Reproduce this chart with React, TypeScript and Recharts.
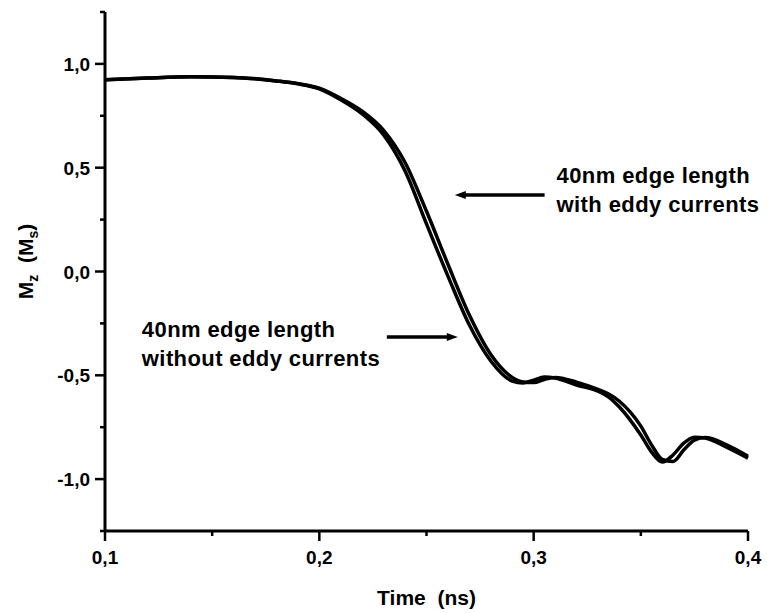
import React from "react";
import { LineChart, Line, XAxis, YAxis, ReferenceLine, ReferenceDot } from "recharts";

// time in ns
const time = [
  0.1, 0.12, 0.14, 0.16, 0.18, 0.19, 0.2, 0.21, 0.22, 0.23, 0.24, 0.25, 0.26, 0.27, 0.28, 0.29,
  0.295, 0.3, 0.305, 0.31, 0.32, 0.33, 0.335, 0.34, 0.35, 0.355, 0.36, 0.365, 0.37, 0.375, 0.38,
  0.39, 0.4,
];

// Mz (Ms), 40nm edge length without eddy currents
const withoutEddy = [
  0.923, 0.932, 0.938, 0.935, 0.918, 0.904, 0.88, 0.827, 0.759, 0.658, 0.484, 0.229, -0.022,
  -0.258, -0.431, -0.528, -0.537, -0.523, -0.508, -0.513, -0.547, -0.576, -0.605, -0.653, -0.788,
  -0.87, -0.918, -0.884, -0.827, -0.798, -0.802, -0.846, -0.899,
];

// Mz (Ms), 40nm edge length with eddy currents
const withEddy = [
  0.923, 0.932, 0.938, 0.935, 0.918, 0.905, 0.883, 0.834, 0.772, 0.68, 0.525, 0.29, 0.035, -0.21,
  -0.4, -0.51, -0.532, -0.535, -0.52, -0.51, -0.533, -0.568, -0.59, -0.625, -0.745, -0.835, -0.905,
  -0.915, -0.86, -0.812, -0.8, -0.835, -0.89,
];

const xTicks = [0.1, 0.15, 0.2, 0.25, 0.3, 0.35, 0.4];
const yTicks = [-1.25, -1, -0.75, -0.5, -0.25, 0, 0.25, 0.5, 0.75, 1, 1.25];

const noteWith = ["40nm edge length", "with eddy currents"];
const noteWithout = ["40nm edge length", "without eddy currents"];

const data = time.map((t, i) => ({ t, without: withoutEddy[i], with: withEddy[i] }));

const FONT = "'Liberation Sans', Arial, sans-serif";

const isMultiple = (v: number, step: number) =>
  Math.abs(v / step - Math.round(v / step)) < 1e-6;

const fmt = (v: number) => v.toFixed(1).replace(".", ",");

const XTick = (props: any) => {
  const { x, y, payload } = props;
  const major = isMultiple(payload.value, 0.1);
  return (
    <g>
      <line x1={x} x2={x} y1={y} y2={y + (major ? 10 : 5)} stroke="#000" strokeWidth={2.5} />
      {major && (
        <text x={x} y={y + 33} textAnchor="middle" fontFamily={FONT} fontWeight="bold" fontSize={19} fill="#000">
          {fmt(payload.value)}
        </text>
      )}
    </g>
  );
};

const YTick = (props: any) => {
  const { x, y, payload } = props;
  const major = isMultiple(payload.value, 0.5);
  return (
    <g>
      <line x1={x} x2={x - (major ? 10 : 5)} y1={y} y2={y} stroke="#000" strokeWidth={2.5} />
      {major && (
        <text x={x - 15} y={y + 7} textAnchor="end" fontFamily={FONT} fontWeight="bold" fontSize={19} fill="#000">
          {fmt(payload.value)}
        </text>
      )}
    </g>
  );
};

const Arrow = (props: any) => {
  const { x1, y1, x2, y2 } = props;
  const dir = x2 > x1 ? 1 : -1;
  return (
    <g>
      <line x1={x1} y1={y1} x2={x2 - dir * 6} y2={y2} stroke="#000" strokeWidth={3.5} />
      <polygon
        points={`${x2},${y2} ${x2 - dir * 11},${y2 - 4} ${x2 - dir * 11},${y2 + 4}`}
        fill="#000"
      />
    </g>
  );
};

const Note = (lines: string[]) => (props: any) => {
  const { cx, cy } = props;
  return (
    <text x={cx} y={cy} fontFamily={FONT} fontWeight="bold" fontSize={22} letterSpacing={0.4} fill="#000">
      {lines.map((l, i) => (
        <tspan key={i} x={cx} dy={i === 0 ? 0 : 29}>
          {l}
        </tspan>
      ))}
    </text>
  );
};

const YLabel = (props: any) => {
  const { viewBox } = props;
  const cx = 33;
  const cy = viewBox.y + viewBox.height / 2 - 10;
  return (
    <text
      x={cx}
      y={cy}
      transform={`rotate(-90, ${cx}, ${cy})`}
      textAnchor="middle"
      fontFamily={FONT}
      fontWeight="bold"
      fontSize={21}
      fill="#000"
      style={{ whiteSpace: "pre" }}
    >
      <tspan>M</tspan>
      <tspan dy={5} fontSize={14}>z</tspan>
      <tspan dy={-5}>{"  (M"}</tspan>
      <tspan dy={5} fontSize={14}>s</tspan>
      <tspan dy={-5}>)</tspan>
    </text>
  );
};

const XLabel = (props: any) => {
  const { viewBox } = props;
  return (
    <text
      x={viewBox.x + viewBox.width / 2}
      y={605}
      textAnchor="middle"
      fontFamily={FONT}
      fontWeight="bold"
      fontSize={21}
      fill="#000"
      style={{ whiteSpace: "pre" }}
    >
      {"Time  (ns)"}
    </text>
  );
};

export default function App() {
  return (
    <div style={{ position: "absolute", left: 0, top: 0, background: "#fff" }}>
      <LineChart width={767} height={613} data={data} margin={{ top: 12, right: 19, bottom: 0, left: 0 }}>
        <XAxis
          dataKey="t"
          type="number"
          domain={[0.1, 0.4]}
          ticks={xTicks}
          interval={0}
          tickSize={0}
          tickMargin={0}
          tickLine={false}
          tick={<XTick />}
          axisLine={{ stroke: "#000", strokeWidth: 3 }}
          height={82}
          label={{ content: <XLabel /> }}
        />
        <YAxis
          type="number"
          domain={[-1.25, 1.25]}
          ticks={yTicks}
          interval={0}
          tickSize={0}
          tickMargin={0}
          tickLine={false}
          tick={<YTick />}
          axisLine={{ stroke: "#000", strokeWidth: 3 }}
          width={105}
          label={{ content: <YLabel /> }}
        />
        <Line
          type="monotone"
          dataKey="without"
          stroke="#000"
          strokeWidth={3.5}
          dot={false}
          isAnimationActive={false}
        />
        <Line
          type="monotone"
          dataKey="with"
          stroke="#000"
          strokeWidth={3.5}
          dot={false}
          isAnimationActive={false}
        />
        <ReferenceLine
          segment={[{ x: 0.3051, y: 0.369 }, { x: 0.2632, y: 0.369 }]}
          shape={<Arrow />}
          ifOverflow="visible"
        />
        <ReferenceLine
          segment={[{ x: 0.2315, y: -0.316 }, { x: 0.2646, y: -0.316 }]}
          shape={<Arrow />}
          ifOverflow="visible"
        />
        <ReferenceDot x={0.3107} y={0.4265} r={0} ifOverflow="visible" shape={Note(noteWith)} />
        <ReferenceDot x={0.1172} y={-0.316} r={0} ifOverflow="visible" shape={Note(noteWithout)} />
      </LineChart>
    </div>
  );
}
